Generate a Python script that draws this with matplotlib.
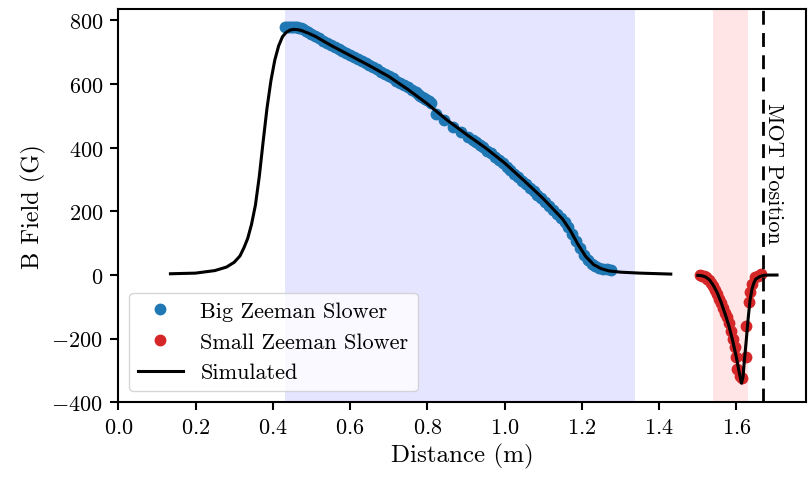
import numpy as np
import matplotlib
matplotlib.use("Agg")
import matplotlib.pyplot as plt

plt.rcParams['font.family'] = 'serif'
plt.rcParams['font.serif'] = ['cmr10']
plt.rcParams['mathtext.fontset'] = 'cm'
plt.rcParams['axes.formatter.use_mathtext'] = True
plt.rcParams['font.size'] = 16

# Big Zeeman slower measurement (m, G)
big_x = [0.432, 0.437, 0.442, 0.447, 0.452, 0.457, 0.462, 0.467, 0.472, 0.478,
         0.485, 0.492, 0.50, 0.51, 0.52, 0.53, 0.54, 0.55, 0.56, 0.57,
         0.58, 0.59, 0.60, 0.61, 0.62, 0.63, 0.64, 0.65, 0.66, 0.67,
         0.68, 0.69, 0.70, 0.71, 0.72, 0.73, 0.74, 0.75, 0.76, 0.77,
         0.775, 0.78, 0.785, 0.79, 0.795, 0.80, 0.805, 0.81, 0.823, 0.844,
         0.866, 0.887, 0.905, 0.917, 0.925, 0.935, 0.945, 0.955, 0.965, 0.975,
         0.985, 0.995, 1.005, 1.015, 1.025, 1.035, 1.045, 1.055, 1.065, 1.075,
         1.085, 1.095, 1.105, 1.115, 1.125, 1.135, 1.145, 1.155, 1.165, 1.175,
         1.185, 1.195, 1.205, 1.215, 1.225, 1.235, 1.245, 1.255, 1.265, 1.275]
big_B = [778, 780, 781, 781, 781, 780, 779, 777, 775, 772,
         768, 763, 758, 751, 744, 737, 730, 724, 718, 711,
         704, 697, 691, 685, 679, 672, 666, 660, 653, 646,
         639, 632, 625, 618, 611, 604, 597, 590, 582, 574,
         568, 562, 560, 557, 554, 550, 546, 540, 505, 486,
         465, 449, 434, 425, 418, 410, 401, 391, 382, 372,
         362, 352, 341, 330, 318, 307, 296, 286, 275, 264,
         253, 242, 230, 218, 205, 193, 180, 166, 150, 130,
         108, 85, 63, 46, 34, 27, 23, 20, 18, 17]

# Small Zeeman slower measurement (m, G)
small_x = [1.505, 1.510, 1.515, 1.520, 1.525, 1.530, 1.535, 1.540, 1.545, 1.550,
           1.555, 1.560, 1.565, 1.570, 1.575, 1.580, 1.585, 1.590, 1.595, 1.598,
           1.602, 1.610, 1.614, 1.624, 1.624, 1.632, 1.634, 1.641, 1.649, 1.655,
           1.663]
small_B = [-1, -2, -4, -7, -11, -17, -25, -35, -47, -60,
           -74, -88, -103, -118, -133, -150, -175, -200, -225, -258,
           -295, -318, -325, -258, -159, -86, -53, -28, -7, -2,
           3]

# Simulated field, big slower section
sim_big_x = [0.135, 0.20, 0.25, 0.28, 0.30, 0.315, 0.325, 0.335, 0.345, 0.355,
             0.365, 0.375, 0.385, 0.395, 0.405, 0.415, 0.425, 0.435, 0.445, 0.455,
             0.465, 0.475, 0.49, 0.51, 0.55, 0.60, 0.65, 0.70, 0.75, 0.80,
             0.85, 0.90, 0.95, 1.00, 1.05, 1.10, 1.15, 1.17, 1.19, 1.21,
             1.23, 1.25, 1.27, 1.30, 1.35, 1.43]
sim_big_B = [4, 6, 14, 25, 40, 60, 85, 115, 160, 220,
             310, 420, 525, 610, 675, 720, 749, 763, 770, 772,
             771, 768, 761, 750, 722, 690, 658, 624, 583, 538,
             488, 443, 400, 352, 297, 240, 176, 140, 96, 58,
             33, 20, 13, 9, 6, 3]

# Simulated field, small slower section
sim_small_x = [1.500, 1.510, 1.520, 1.530, 1.540, 1.550, 1.560, 1.570, 1.580, 1.590,
               1.600, 1.607, 1.613, 1.617, 1.620, 1.625, 1.630, 1.635, 1.640, 1.645,
               1.650, 1.660, 1.670, 1.685, 1.705]
sim_small_B = [-1, -2, -6, -15, -32, -55, -85, -120, -158, -205,
               -260, -305, -340, -320, -275, -210, -140, -80, -45, -25,
               -13, -5, -1, 0, 0]

big_region = (0.431, 1.337)
small_region = (1.540, 1.630)
mot_pos = 1.668

fig = plt.figure(figsize=(8.09, 4.81), dpi=100)
ax = fig.add_axes([0.1462, 0.1615, 0.8501, 0.8177])

ax.axvspan(*big_region, color='blue', alpha=0.1, lw=0)
ax.axvspan(*small_region, color='red', alpha=0.1, lw=0)

ax.plot(big_x, big_B, 'o', color='tab:blue', markersize=7.5, label='Big Zeeman Slower')
ax.plot(small_x, small_B, 'o', color='tab:red', markersize=7.5, label='Small Zeeman Slower')
ax.plot(sim_big_x, sim_big_B, '-', color='black', lw=2.2, label='Simulated')
ax.plot(sim_small_x, sim_small_B, '-', color='black', lw=2.2)

ax.axvline(mot_pos, color='black', ls='--', lw=2, dashes=(5, 3))
ax.text(mot_pos + 0.004, 545, 'MOT Position', rotation=-90, ha='left', va='top')

ax.set_xlim(0, 1.78)
ax.set_ylim(-400, 836)
ax.set_xticks(np.arange(0, 1.61, 0.2))
ax.set_yticks(np.arange(-400, 801, 200))
ax.set_xlabel('Distance (m)', fontsize=18)
ax.set_ylabel('B Field (G)', fontsize=17.5)
for s in ax.spines.values():
    s.set_linewidth(1.5)
ax.tick_params(width=1.5, length=6, pad=5)
ax.legend(loc='lower left')

fig.savefig('out.png', dpi=100)
